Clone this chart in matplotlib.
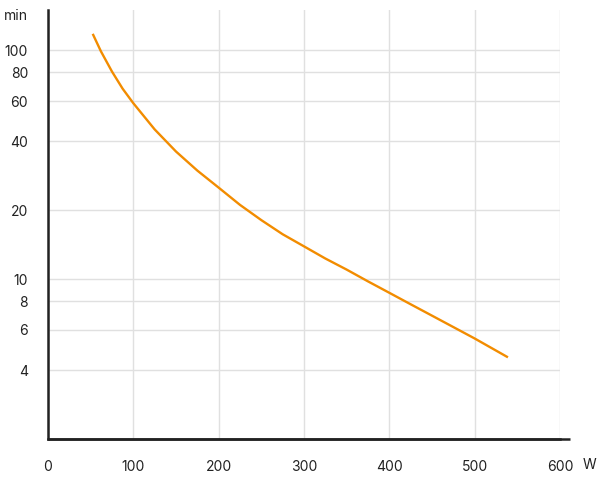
import matplotlib
matplotlib.use("Agg")
import matplotlib.pyplot as plt
from matplotlib.ticker import FixedLocator, NullLocator, FixedFormatter

power_w = [52.4, 62, 75, 87.5, 100, 125, 150, 175, 200, 225, 250, 275, 300,
           325, 350, 375, 400, 425, 450, 475, 500, 539]
runtime_min = [118, 99, 80.7, 67.9, 58.7, 45.1, 36.1, 29.8, 25.1, 21.1, 18.1, 15.7, 13.9,
               12.3, 11.0, 9.77, 8.71, 7.76, 6.92, 6.17, 5.50, 4.55]

y_ticks = [4, 6, 8, 10, 20, 40, 60, 80, 100]
y_tick_labels = ["4", "6", "8", "10", "20", "40", "60", "80", "100"]
x_ticks = [0, 100, 200, 300, 400, 500, 600]
x_tick_labels = ["0", "100", "200", "300", "400", "500", "600"]

plt.rcParams['font.family'] = ['Inter', 'DejaVu Sans']

fig = plt.figure(figsize=(6, 4.8), dpi=100)
ax = fig.add_axes([48/600, 1-439/480, 512/600, 429/480])

ax.set_yscale('log')
ax.set_xlim(0, 600)
ax.set_ylim(2, 150)

ax.yaxis.set_major_locator(FixedLocator(y_ticks))
ax.yaxis.set_major_formatter(FixedFormatter(y_tick_labels))
ax.yaxis.set_minor_locator(NullLocator())
ax.xaxis.set_major_locator(FixedLocator(x_ticks))
ax.xaxis.set_major_formatter(FixedFormatter(x_tick_labels))

ax.grid(True, color='#e0e0e0', linewidth=1.0)
ax.set_axisbelow(True)

for s in ['top', 'right']:
    ax.spines[s].set_visible(False)
for s in ['left', 'bottom']:
    ax.spines[s].set_color('#222222')
    ax.spines[s].set_linewidth(1.8)

# extend x axis line a bit past 600
ax.plot([0, 612], [2, 2], color='#222222', linewidth=1.8, clip_on=False,
        solid_capstyle='butt', zorder=5)

ax.tick_params(axis='both', length=0, labelsize=10, colors='#222222')
ax.tick_params(axis='y', pad=14.4)
ax.tick_params(axis='x', pad=15)

ax.plot(power_w, runtime_min, color='#f28c00', linewidth=1.7, zorder=4,
        solid_capstyle='butt', solid_joinstyle='round')

fig.text(28/600, 1-15.5/480, 'min', ha='right', va='center', fontsize=10, color='#222222')
fig.text(583/600, 1-465/480, 'W', ha='left', va='center', fontsize=10, color='#222222')

fig.savefig('out.png', dpi=100)
